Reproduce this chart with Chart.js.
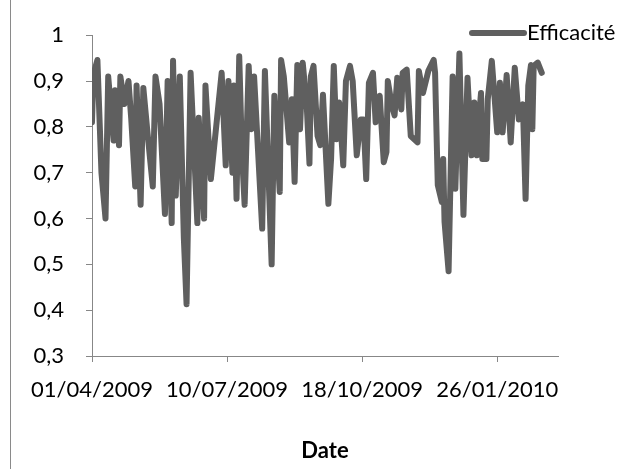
<!DOCTYPE html>
<html>
<head>
<meta charset="utf-8">
<script src="https://cdn.jsdelivr.net/npm/chart.js@4/dist/chart.umd.min.js"></script>
<style>
    body { margin: 0; background: #fff; }
    #cadre { position: absolute; left: 0; top: 0; width: 630px; height: 469px; }
    #bord { position: absolute; left: 10px; top: 0; width: 0; height: 469px; border-left: 1px solid #8a8a8a; }
</style>
</head>
<body>
<div id="cadre">
    <div id="bord"></div>
    <canvas id="graphique" width="630" height="469"></canvas>
</div>
<script>
// jours depuis le 01/04/2009
const jours = [0, 1, 4, 7, 10, 12, 16, 17, 20, 21, 24, 27, 29, 32, 33, 36, 38, 41, 45, 47,
    50, 54, 56, 59, 60, 62, 65, 68, 70, 73, 78, 79, 83, 84, 88, 96, 99, 101, 104, 105,
    107, 109, 111, 113, 116, 118, 120, 126, 128, 133, 135, 139, 140, 142, 146, 148, 150, 152, 154, 156,
    159, 161, 162, 164, 167, 169, 171, 175, 177, 179, 181, 183, 186, 188, 191, 193, 196, 199, 201, 203,
    205, 208, 210, 213, 216, 218, 219, 222, 224, 226, 229, 230, 233, 236, 241, 242, 245, 249, 253, 254,
    256, 259, 260, 261, 264, 267, 269, 272, 275, 278, 281, 283, 285, 287, 288, 289, 292, 293, 296, 300,
    302, 304, 307, 310, 313, 316, 319, 321, 323, 325, 326, 327, 330, 333];

const efficacite = [0.81, 0.914, 0.946, 0.70, 0.60, 0.91, 0.77, 0.88, 0.76, 0.91, 0.85, 0.90, 0.82, 0.67, 0.89, 0.63, 0.885, 0.79, 0.67, 0.91,
    0.85, 0.61, 0.90, 0.59, 0.944, 0.65, 0.91, 0.557, 0.413, 0.918, 0.59, 0.82, 0.60, 0.89, 0.686, 0.918, 0.716, 0.90, 0.70, 0.89,
    0.643, 0.954, 0.745, 0.63, 0.933, 0.795, 0.91, 0.578, 0.922, 0.50, 0.868, 0.658, 0.946, 0.91, 0.766, 0.86, 0.68, 0.935, 0.795, 0.94,
    0.846, 0.72, 0.91, 0.933, 0.78, 0.76, 0.87, 0.632, 0.73, 0.933, 0.773, 0.853, 0.716, 0.90, 0.933, 0.90, 0.738, 0.816, 0.816, 0.686,
    0.896, 0.918, 0.81, 0.868, 0.723, 0.745, 0.90, 0.846, 0.825, 0.907, 0.838, 0.918, 0.925, 0.78, 0.766, 0.922, 0.874, 0.922, 0.946, 0.918,
    0.673, 0.636, 0.73, 0.593, 0.485, 0.91, 0.665, 0.96, 0.608, 0.907, 0.738, 0.853, 0.738, 0.838, 0.874, 0.73, 0.73, 0.86, 0.944, 0.788,
    0.896, 0.788, 0.913, 0.766, 0.929, 0.816, 0.849, 0.643, 0.89, 0.935, 0.795, 0.933, 0.94, 0.918];

// graduations de l'axe des dates (en jours)
const graduationsX = [0, 100, 200, 300];

const dateDebut = Date.UTC(2009, 3, 1);
const nomSerie = 'Efficacité';
const titreAxeX = 'Date';

const police = 'Lato, "Open Sans", sans-serif';
const taille = 22;
const gris = '#5f5f5f';
const grisAxe = '#878787';

function formatDate(j) {
    let d = new Date(dateDebut + j * 86400000);
    let jj = String(d.getUTCDate()).padStart(2, '0');
    let mm = String(d.getUTCMonth() + 1).padStart(2, '0');
    return `${jj}/${mm}/${d.getUTCFullYear()}`;
}

// Légende dessinée à la main (flottante en haut à droite)
const legendePerso = {
    id: 'legendePerso',
    afterDraw(chart) {
        const ctx = chart.ctx;
        ctx.save();
        ctx.strokeStyle = gris;
        ctx.lineWidth = 6;
        ctx.lineCap = 'round';
        ctx.beginPath();
        ctx.moveTo(472, 33);
        ctx.lineTo(524, 33);
        ctx.stroke();
        ctx.fillStyle = '#000';
        ctx.font = taille + 'px ' + police;
        ctx.textBaseline = 'middle';
        ctx.fillText(chart.data.datasets[0].label, 527, 33);
        ctx.restore();
    }
};

const ctx = document.getElementById('graphique').getContext('2d');
new Chart(ctx, {
    type: 'line',
    data: {
        datasets: [{
            label: nomSerie,
            data: jours.map((j, i) => ({ x: j, y: efficacite[i] })),
            borderColor: gris,
            backgroundColor: gris,
            borderWidth: 6,
            borderJoinStyle: 'round',
            borderCapStyle: 'round',
            pointRadius: 0,
            tension: 0
        }]
    },
    options: {
        responsive: false,
        animation: false,
        layout: { padding: { left: 0, right: 72, top: 32, bottom: 0 } },
        plugins: {
            legend: { display: false },
            tooltip: { enabled: false }
        },
        scales: {
            x: {
                type: 'linear',
                min: 0,
                max: 345,
                afterFit: s => { s.height = 113; },
                afterBuildTicks: s => { s.ticks = graduationsX.map(v => ({ value: v })); },
                ticks: {
                    autoSkip: false,
                    maxRotation: 0,
                    padding: 15,
                    color: '#000',
                    font: { family: police, size: taille },
                    callback: v => formatDate(v)
                },
                grid: { drawOnChartArea: false, tickLength: 6, color: grisAxe },
                border: { color: grisAxe, width: 1 },
                title: {
                    display: true,
                    text: titreAxeX,
                    color: '#000',
                    font: { family: police, size: taille, weight: 'bold' },
                    padding: { top: 0, bottom: 5 }
                }
            },
            y: {
                min: 0.3,
                max: 1,
                afterFit: s => { s.width = 92; },
                ticks: {
                    stepSize: 0.1,
                    padding: 22,
                    color: '#000',
                    font: { family: police, size: taille },
                    callback: v => (Math.abs(v - 1) < 1e-9 ? '1' : v.toFixed(1).replace('.', ','))
                },
                grid: { drawOnChartArea: false, tickLength: 6, color: grisAxe },
                border: { color: grisAxe, width: 1 }
            }
        }
    },
    plugins: [legendePerso]
});
</script>
</body>
</html>
